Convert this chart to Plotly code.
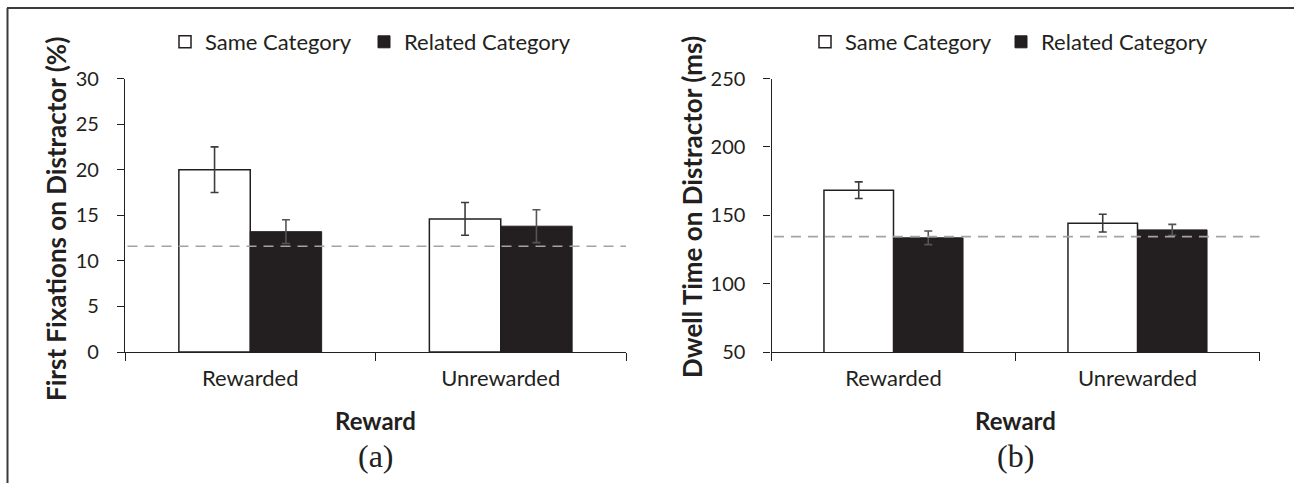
import plotly.graph_objects as go

W, H = 1294, 483

categories = ["Rewarded", "Unrewarded"]
series_names = ["Same Category", "Related Category"]

# Panel (a): First fixations on distractor (%)
fix_same = [20.0, 14.6]
fix_related = [13.2, 13.8]
fix_same_err = [2.5, 1.8]
fix_related_err = [1.3, 1.8]
fix_baseline = 11.6
fix_ticks = [0, 5, 10, 15, 20, 25, 30]

# Panel (b): Dwell time on distractor (ms)
dwell_same = [168.3, 144.2]
dwell_related = [133.5, 139.3]
dwell_same_err = [6.1, 6.5]
dwell_related_err = [5.0, 4.0]
dwell_baseline = 134.4
dwell_ticks = [50, 100, 150, 200, 250]

TXT = "#231f20"
DARK = "#231f20"
FONT = "Lato"

def px_x(p):
    return p / W

def px_y(p):
    return 1 - p / H

fig = go.Figure()

def add_panel(xa, ya, same, rel, same_err, rel_err, leg_a, leg_b):
    fig.add_trace(go.Bar(
        x=categories, y=same, name=series_names[0], xaxis=xa, yaxis=ya,
        marker=dict(color="white", line=dict(color=DARK, width=1.5)),
        error_y=dict(type="data", array=same_err, visible=True, color="#3c3c3c",
                     thickness=1.6, width=4),
        legend=leg_a, showlegend=True,
    ))
    fig.add_trace(go.Bar(
        x=categories, y=rel, name=series_names[1], xaxis=xa, yaxis=ya,
        marker=dict(color=DARK, line=dict(color=DARK, width=1)),
        error_y=dict(type="data", array=rel_err, visible=True, color="#555555",
                     thickness=1.6, width=4),
        legend=leg_b, showlegend=True,
    ))

add_panel("x", "y", fix_same, fix_related, fix_same_err, fix_related_err, "legend", "legend2")
add_panel("x2", "y2", dwell_same, dwell_related, dwell_same_err, dwell_related_err, "legend3", "legend4")

ydom = [px_y(352), px_y(78.5)]

xaxis_common = dict(
    type="category", tickson="boundaries", ticks="outside", ticklen=8,
    tickcolor=DARK, tickwidth=1.3, showline=True, linecolor=DARK, linewidth=1.3,
    showgrid=False, zeroline=False, range=[-0.5, 1.5], automargin=False,
    tickfont=dict(family=FONT, size=22, color=TXT), ticklabelstandoff=6,
    fixedrange=True,
)
yaxis_common = dict(
    ticks="outside", ticklen=7, tickcolor=DARK, tickwidth=1.3, automargin=False,
    showline=True, linecolor=DARK, linewidth=1.3, showgrid=False, zeroline=False,
    tickfont=dict(family=FONT, size=20, color=TXT), ticklabelstandoff=14,
    domain=ydom, fixedrange=True,
)

fig.update_layout(
    template="none",
    width=W, height=H, autosize=False,
    margin=dict(l=0, r=0, t=0, b=0, pad=0, autoexpand=False),
    paper_bgcolor="white", plot_bgcolor="white",
    barmode="group", bargap=0.43, bargroupgap=0,
    showlegend=True,
    xaxis=dict(xaxis_common, domain=[px_x(125), px_x(626)], anchor="y"),
    yaxis=dict(yaxis_common, range=[0, 30], tickvals=fix_ticks, anchor="x"),
    xaxis2=dict(xaxis_common, domain=[px_x(771.5), px_x(1259.5)], anchor="y2"),
    yaxis2=dict(yaxis_common, range=[50, 250], tickvals=dwell_ticks, anchor="x2"),
)

leg_common = dict(orientation="h", yanchor="middle", xanchor="left",
                  bgcolor="rgba(0,0,0,0)", borderwidth=0,
                  font=dict(family=FONT, size=22, color=TXT), itemclick=False,
                  itemdoubleclick=False)
leg_y = px_y(42)
fig.update_layout(
    legend=dict(leg_common, x=px_x(165), y=leg_y),
    legend2=dict(leg_common, x=px_x(364), y=leg_y),
    legend3=dict(leg_common, x=px_x(805), y=leg_y),
    legend4=dict(leg_common, x=px_x(1001), y=leg_y),
)

# Baseline dashed lines
for xa, ya, val in [("x", "y", fix_baseline), ("x2", "y2", dwell_baseline)]:
    fig.add_shape(type="line", xref=f"{xa} domain", yref=ya, x0=0.005, x1=1, y0=val, y1=val,
                  line=dict(color="#a3a3a3", width=1.6, dash="10px,7px"), layer="above")

# Axis titles and panel labels
ann = []
ann.append(dict(text="<b>First Fixations on Distractor (%)</b>", x=px_x(56), y=px_y(219),
                textangle=-90))
ann.append(dict(text="<b>Dwell Time on Distractor (ms)</b>", x=px_x(692), y=px_y(207),
                textangle=-90))
for cx in [(125 + 626) / 2, (771.5 + 1259.5) / 2]:
    ann.append(dict(text="<b>Reward</b>", x=px_x(cx), y=px_y(420),
                    font=dict(family=FONT, size=24, color=TXT)))
for cx, lab in [((125 + 626) / 2, "(a)"), ((771.5 + 1259.5) / 2, "(b)")]:
    ann.append(dict(text=lab, x=px_x(cx), y=px_y(456),
                    font=dict(family="Liberation Serif", size=32, color=TXT)))
for a in ann:
    a.setdefault("font", dict(family=FONT, size=26, color=TXT))
    fig.add_annotation(xref="paper", yref="paper", showarrow=False,
                       xanchor="center", yanchor="middle", **a)

# Figure frame (top and left border)
fig.add_shape(type="line", xref="paper", yref="paper", x0=px_x(7), x1=1, y0=px_y(8), y1=px_y(8),
              line=dict(color="#3a3a3a", width=2))
fig.add_shape(type="line", xref="paper", yref="paper", x0=px_x(7.5), x1=px_x(7.5), y0=px_y(8), y1=0,
              line=dict(color="#3a3a3a", width=2))

fig.write_html(
    "out.html",
    config={"displayModeBar": False, "responsive": False},
    post_script="document.body.style.margin='0';document.body.style.overflow='hidden';",
)
